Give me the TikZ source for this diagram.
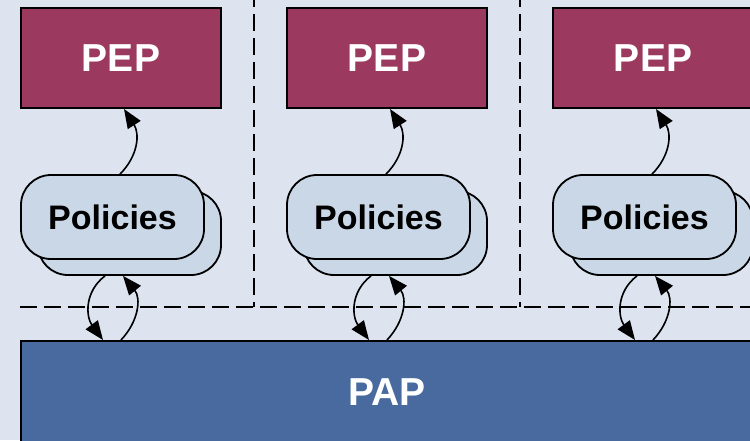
\documentclass[tikz,border=0pt]{standalone}
\usepackage{fontspec}
\setmainfont{Liberation Sans}
\usetikzlibrary{arrows.meta}

\definecolor{bgcol}{RGB}{221,227,239}
\definecolor{pepcol}{RGB}{155,58,94}
\definecolor{polcol}{RGB}{202,215,230}
\definecolor{papcol}{RGB}{73,106,158}

\tikzset{
  pepbox/.style={draw=black, line width=2pt, fill=pepcol, text=white,
    minimum width=200pt, minimum height=100pt, inner sep=0pt,
    font=\bfseries\fontsize{39}{44}\selectfont},
  polbox/.style={draw=black, line width=1.8pt, fill=polcol, rounded corners=30pt,
    minimum width=183pt, minimum height=84pt, inner sep=0pt,
    font=\bfseries\fontsize{34}{40}\selectfont},
  papbox/.style={draw=black, line width=2pt, fill=papcol, text=white,
    minimum width=732pt, minimum height=102pt, inner sep=0pt,
    font=\bfseries\fontsize{39}{44}\selectfont},
  link/.style={line width=1.6pt, -{Triangle[length=19pt,width=15pt]}},
  grouping/.style={line width=2.2pt, dash pattern=on 17pt off 7pt}
}

\begin{document}
\begin{tikzpicture}[x=1pt,y=-1pt]
  \fill[bgcol] (0,0) rectangle (750,440);
  \useasboundingbox (0,0) rectangle (750,440);

  % dashed group borders
  \draw[grouping, dash phase=10pt] (254,0) -- (254,307);
  \draw[grouping, dash phase=10pt] (520,0) -- (520,307);
  \draw[grouping] (20,307) -- (752,307);

  % policy administration point
  \node[papbox] (pap) at (387,392) {PAP};

  \foreach \i/\dx in {1/0, 2/266, 3/532} {
    \node[pepbox] (pep\i) at (121+\dx,58) {PEP};
    \node[polbox] (polb\i) at (129.5+\dx,233) {};
    \node[polbox] (polf\i) at (112.5+\dx,217) {Policies};

    % enforcement link
    \draw[link] ([xshift=7.5pt]polf\i.north)
      .. controls +(18,-18) and +(16,25) .. ([xshift=3pt]pep\i.south);

    % administration links
    \draw[link] ([xshift=-24.5pt]polb\i.south)
      .. controls +(-21,16) and +(-17,-23) .. ([xshift={-284+\dx}]pap.north);
    \draw[link] ([xshift={-266+\dx}]pap.north)
      .. controls +(18,-19) and +(18,22) .. ([xshift=-6.5pt]polb\i.south);
  }
\end{tikzpicture}
\end{document}
